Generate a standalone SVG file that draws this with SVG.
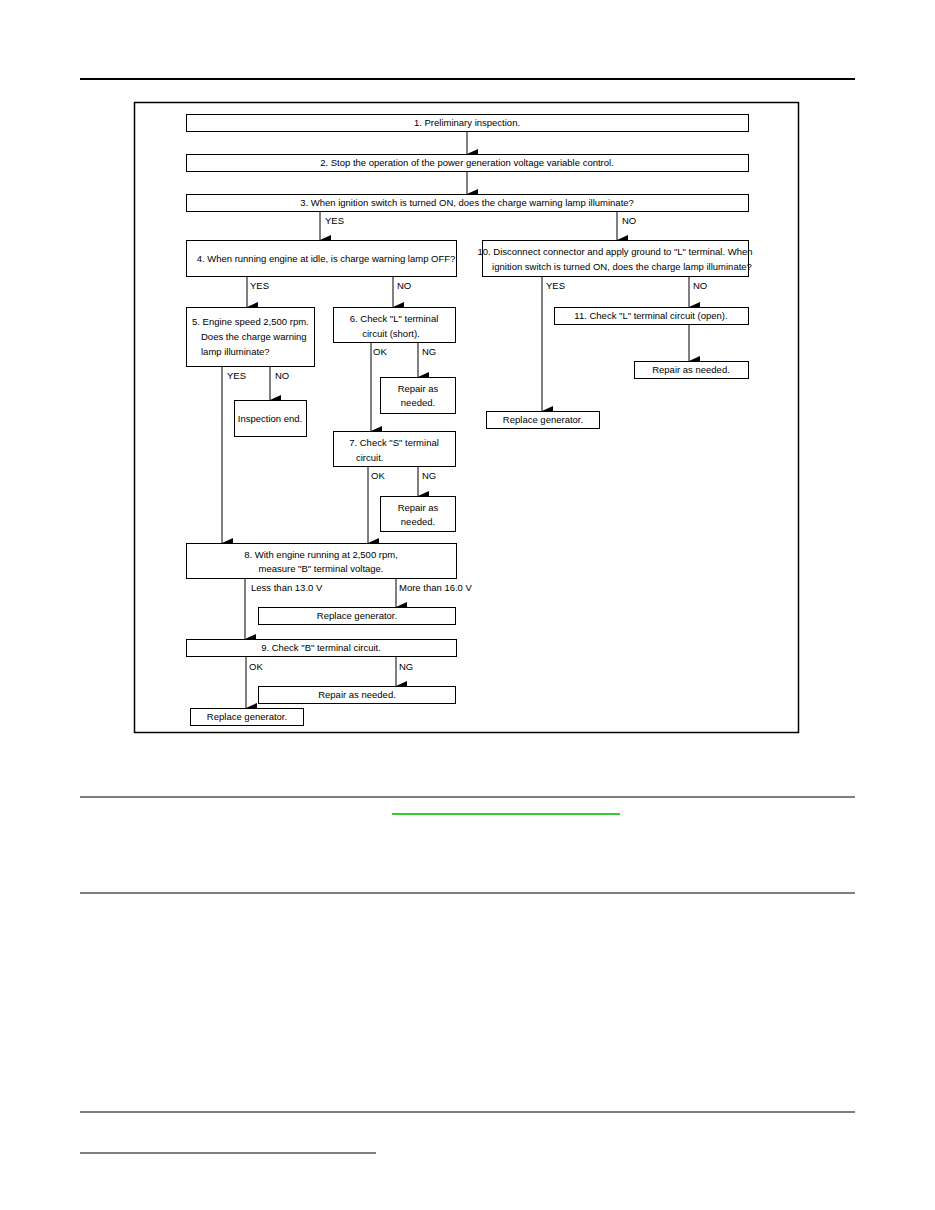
<svg xmlns="http://www.w3.org/2000/svg" width="935" height="1210" viewBox="0 0 935 1210">
<defs><marker id="ah" markerWidth="10" markerHeight="12" refX="5" refY="11" orient="auto-start-reverse" markerUnits="userSpaceOnUse"><path d="M0,0 L10,0 L5,11 Z" fill="#000"/></marker></defs>
<style>
.b{fill:#fff;stroke:#000;stroke-width:1}
.t{font-family:"Liberation Sans",Arial,sans-serif;font-size:9.5px;fill:#000}
.m{text-anchor:middle}
.c line{stroke:#000;stroke-width:1}
.c line.a{marker-end:url(#ah)}
</style>
<rect width="935" height="1210" fill="#fff"/>
<g id="page">
<line x1="80" y1="79" x2="855" y2="79" stroke="#000" stroke-width="2"/>
<line x1="80" y1="797" x2="855" y2="797" stroke="#000" stroke-width="1"/>
<line x1="392" y1="814" x2="620" y2="814" stroke="#3c3" stroke-width="2"/>
<line x1="80" y1="893" x2="855" y2="893" stroke="#000" stroke-width="1.2"/>
<line x1="80" y1="1112" x2="855" y2="1112" stroke="#000" stroke-width="1"/>
<line x1="80" y1="1153" x2="376" y2="1153" stroke="#000" stroke-width="1"/>
<rect x="134.5" y="102.5" width="664" height="630" fill="none" stroke="#000" stroke-width="1.5"/>
</g>
<g class="c">
<line class="a" x1="467" y1="131" x2="467" y2="154"/>
<line class="a" x1="467" y1="172" x2="467" y2="194"/>
<line class="a" x1="320" y1="211" x2="320" y2="240"/>
<line class="a" x1="617" y1="211" x2="617" y2="240"/>
<line class="a" x1="247" y1="276" x2="247" y2="307"/>
<line class="a" x1="393" y1="276" x2="393" y2="307"/>
<line class="a" x1="222" y1="366" x2="222" y2="543"/>
<line class="a" x1="270" y1="366" x2="270" y2="400"/>
<line class="a" x1="371" y1="342" x2="371" y2="431"/>
<line class="a" x1="418" y1="342" x2="418" y2="377"/>
<line class="a" x1="368" y1="466" x2="368" y2="543"/>
<line class="a" x1="418" y1="466" x2="418" y2="496"/>
<line class="a" x1="245" y1="578" x2="245" y2="639"/>
<line class="a" x1="396" y1="578" x2="396" y2="607"/>
<line class="a" x1="246" y1="657" x2="246" y2="708"/>
<line class="a" x1="396" y1="657" x2="396" y2="686"/>
<line class="a" x1="542" y1="276" x2="542" y2="411"/>
<line class="a" x1="689" y1="276" x2="689" y2="307"/>
<line class="a" x1="689" y1="325" x2="689" y2="361"/>
<g class="t">
<text x="325" y="224">YES</text><text x="622" y="224">NO</text>
<text x="250" y="289">YES</text><text x="397" y="289">NO</text>
<text x="227" y="379">YES</text><text x="275" y="379">NO</text>
<text x="373" y="355">OK</text><text x="422" y="355">NG</text>
<text x="371" y="479">OK</text><text x="422" y="479">NG</text>
<text x="251" y="591">Less than 13.0 V</text><text x="399" y="591">More than 16.0 V</text>
<text x="249" y="670">OK</text><text x="399" y="670">NG</text>
<text x="546" y="289">YES</text><text x="693" y="289">NO</text>
</g>
</g>
<g id="n1"><rect class="b" x="186.5" y="114.5" width="562" height="17"/><text class="t m" x="467" y="126">1. Preliminary inspection.</text></g>
<g id="n2"><rect class="b" x="186.5" y="154.5" width="562" height="17"/><text class="t m" x="467" y="166">2. Stop the operation of the power generation voltage variable control.</text></g>
<g id="n3"><rect class="b" x="186.5" y="194.5" width="562" height="17"/><text class="t m" x="467" y="206">3. When ignition switch is turned ON, does the charge warning lamp illuminate?</text></g>
<g id="n4"><rect class="b" x="186.5" y="240.5" width="270" height="36"/><text class="t m" x="326" y="262">4. When running engine at idle, is charge warning lamp OFF?</text></g>
<g id="n5"><rect class="b" x="186.5" y="307.5" width="128" height="59"/><text class="t" x="192" y="325">5. Engine speed 2,500 rpm.</text><text class="t" x="201" y="340">Does the charge warning</text><text class="t" x="201" y="355">lamp illuminate?</text></g>
<g id="n6"><rect class="b" x="333.5" y="307.5" width="122" height="35"/><text class="t m" x="394" y="322">6. Check "L" terminal</text><text class="t m" x="391" y="337">circuit (short).</text></g>
<g id="n6r"><rect class="b" x="380.5" y="377.5" width="75" height="36"/><text class="t m" x="418" y="392">Repair as</text><text class="t m" x="418" y="406">needed.</text></g>
<g id="ne"><rect class="b" x="234.5" y="400.5" width="72" height="36"/><text class="t m" x="270" y="422">Inspection end.</text></g>
<g id="n7"><rect class="b" x="333.5" y="431.5" width="122" height="35"/><text class="t m" x="394" y="446">7. Check "S" terminal</text><text class="t" x="356" y="461">circuit.</text></g>
<g id="n7r"><rect class="b" x="380.5" y="496.5" width="75" height="35"/><text class="t m" x="418" y="511">Repair as</text><text class="t m" x="418" y="525">needed.</text></g>
<g id="n8"><rect class="b" x="186.5" y="543.5" width="270" height="35"/><text class="t m" x="321" y="558">8. With engine running at 2,500 rpm,</text><text class="t m" x="321" y="572">measure "B" terminal voltage.</text></g>
<g id="n8r"><rect class="b" x="258.5" y="607.5" width="197" height="17"/><text class="t m" x="357" y="619">Replace generator.</text></g>
<g id="n9"><rect class="b" x="186.5" y="639.5" width="270" height="17"/><text class="t m" x="321" y="651">9. Check "B" terminal circuit.</text></g>
<g id="n9r"><rect class="b" x="258.5" y="686.5" width="197" height="17"/><text class="t m" x="357" y="698">Repair as needed.</text></g>
<g id="n9g"><rect class="b" x="190.5" y="708.5" width="113" height="17"/><text class="t m" x="247" y="720">Replace generator.</text></g>
<g id="n10"><rect class="b" x="482.5" y="240.5" width="266" height="36"/><text class="t m" x="615" y="255">10. Disconnect connector and apply ground to "L" terminal. When</text><text class="t m" x="622" y="270">ignition switch is turned ON, does the charge lamp illuminate?</text></g>
<g id="n11"><rect class="b" x="554.5" y="307.5" width="194" height="17"/><text class="t m" x="651" y="319">11. Check "L" terminal circuit (open).</text></g>
<g id="n11r"><rect class="b" x="634.5" y="361.5" width="114" height="17"/><text class="t m" x="691" y="373">Repair as needed.</text></g>
<g id="n10g"><rect class="b" x="486.5" y="411.5" width="113" height="17"/><text class="t m" x="543" y="423">Replace generator.</text></g>
</svg>
